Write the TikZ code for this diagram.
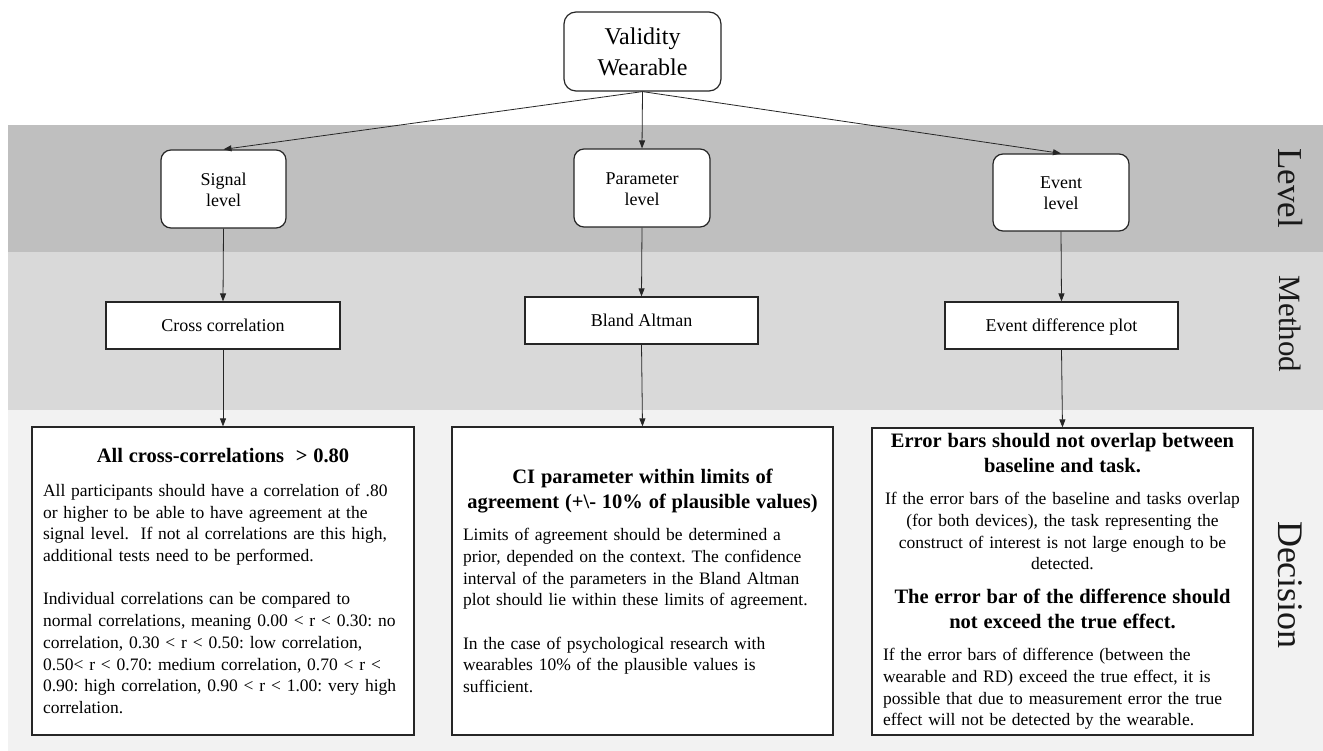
\documentclass[tikz,border=0pt]{standalone}
\usepackage{fontspec}
\setmainfont{Liberation Serif}
\usetikzlibrary{arrows.meta}
\definecolor{bandA}{RGB}{191,191,191}
\definecolor{bandB}{RGB}{217,217,217}
\definecolor{bandC}{RGB}{242,242,242}
\definecolor{edge}{RGB}{38,38,38}
\newcommand{\ttl}{\fontsize{20.5}{25}\selectfont\bfseries}
\newcommand{\topstrut}{\rule{0pt}{14pt}}
\frenchspacing
\begin{document}
\begin{tikzpicture}[x=1pt,y=-1pt,
  lvl/.style={draw=edge, line width=1.2pt, rounded corners=10pt, fill=white, align=center,
    font=\fontsize{18}{21}\selectfont, inner sep=0pt},
  topbox/.style={lvl, rounded corners=12pt, font=\fontsize{24}{31}\selectfont},
  meth/.style={draw=edge, line width=1.2pt, fill=white, align=center,
    font=\fontsize{18}{21}\selectfont, inner sep=0pt, text height=13pt, text depth=0pt},
  dec/.style={draw=edge, line width=1.2pt, fill=white, inner xsep=8pt, inner ysep=0pt,
    font=\fontsize{17.5}{21.7}\selectfont},
  conn/.style={draw=edge, line width=0.8pt, -{Triangle[length=8pt,width=6pt]}},
  side/.style={rotate=-90, text=black!90}
]
\useasboundingbox (0,0) rectangle (1323,751);
\fill[white] (0,0) rectangle (1323,751);
\fill[bandA] (8,125) rectangle (1323,252);
\fill[bandB] (8,252) rectangle (1323,410);
\fill[bandC] (8,410) rectangle (1323,751);

\node[side, font=\fontsize{35}{40}\selectfont] (lLevel) at (1290,188) {Level};
\node[side, font=\fontsize{31}{40}\selectfont] (lMethod) at (1290,324) {Method};
\node[side, font=\fontsize{36}{40}\selectfont] (lDecision) at (1290,585) {Decision};

\node[topbox, minimum width=157pt, minimum height=79pt] (top) at (642.5,51.5) {Validity\\Wearable};

\node[lvl, minimum width=125pt, minimum height=78pt] (sig) at (223.5,189) {\topstrut Signal\\level};
\node[lvl, minimum width=136pt, minimum height=78pt] (par) at (642,188) {\topstrut Parameter\\level};
\node[lvl, minimum width=136pt, minimum height=77pt] (evt) at (1061,192.5) {\topstrut Event\\level};

\node[meth, minimum width=234pt, minimum height=47pt] (cc) at (223,325.5) {Cross correlation};
\node[meth, minimum width=233pt, minimum height=47pt] (ba) at (641.5,320.5) {Bland Altman};
\node[meth, minimum width=233pt, minimum height=47pt] (edp) at (1061.5,325.5) {Event difference plot};

\node[dec, text width=366pt, minimum height=308pt] (d1) at (223,581) {%
{\centering\ttl All cross-correlations\ \ > 0.80\par}\vspace{12.3pt}
\raggedright\leftskip=3pt
All participants should have a correlation of .80\\
or higher to be able to have agreement at the\\
signal level.\ \ If not al correlations are this high,\\
additional tests need to be performed.\par
\vspace{21.7pt}
Individual correlations can be compared to\\
normal correlations, meaning 0.00 < r < 0.30: no\\
correlation, 0.30 < r < 0.50: low correlation,\\
0.50< r < 0.70: medium correlation, 0.70 < r <\\
0.90: high correlation, 0.90 < r < 1.00: very high\\
correlation.\par};

\node[dec, text width=365pt, minimum height=308pt] (d2) at (642.5,581) {%
{\centering\ttl CI parameter within limits of\\
agreement (+\textbackslash- 10\% of plausible values)\par}\vspace{10.3pt}
\raggedright\leftskip=3pt
Limits of agreement should be determined a\\
prior, depended on the context. The confidence\\
interval of the parameters in the Bland Altman\\
plot should lie within these limits of agreement.\par
\vspace{21.7pt}
In the case of psychological research with\\
wearables 10\% of the plausible values is\\
sufficient.\par};

\node[dec, text width=365pt, minimum height=307pt] (d3) at (1062.5,581.5) {%
{\centering\ttl Error bars should not overlap between\\
baseline and task.\par}\vspace{10.3pt}
{\centering
If the error bars of the baseline and tasks overlap\\
(for both devices), the task representing the\\
construct of interest is not large enough to be\\
detected.\par}\vspace{9pt}
{\centering\ttl The error bar of the difference should\\
not exceed the true effect.\par}\vspace{10.3pt}
\raggedright\leftskip=3pt
If the error bars of difference (between the\\
wearable and RD) exceed the true effect, it is\\
possible that due to measurement error the true\\
effect will not be detected by the wearable.\par};

\draw[conn] (top.south) -- (sig.north);
\draw[conn] (top.south) -- (par.north);
\draw[conn] (top.south) -- (evt.north);
\draw[conn] (sig.south) -- (cc.north);
\draw[conn] (par.south) -- (ba.north);
\draw[conn] (evt.south) -- (edp.north);
\draw[conn] (cc.south) -- (d1.north);
\draw[conn] (ba.south) -- (d2.north);
\draw[conn] (edp.south) -- (d3.north);
\end{tikzpicture}
\end{document}
